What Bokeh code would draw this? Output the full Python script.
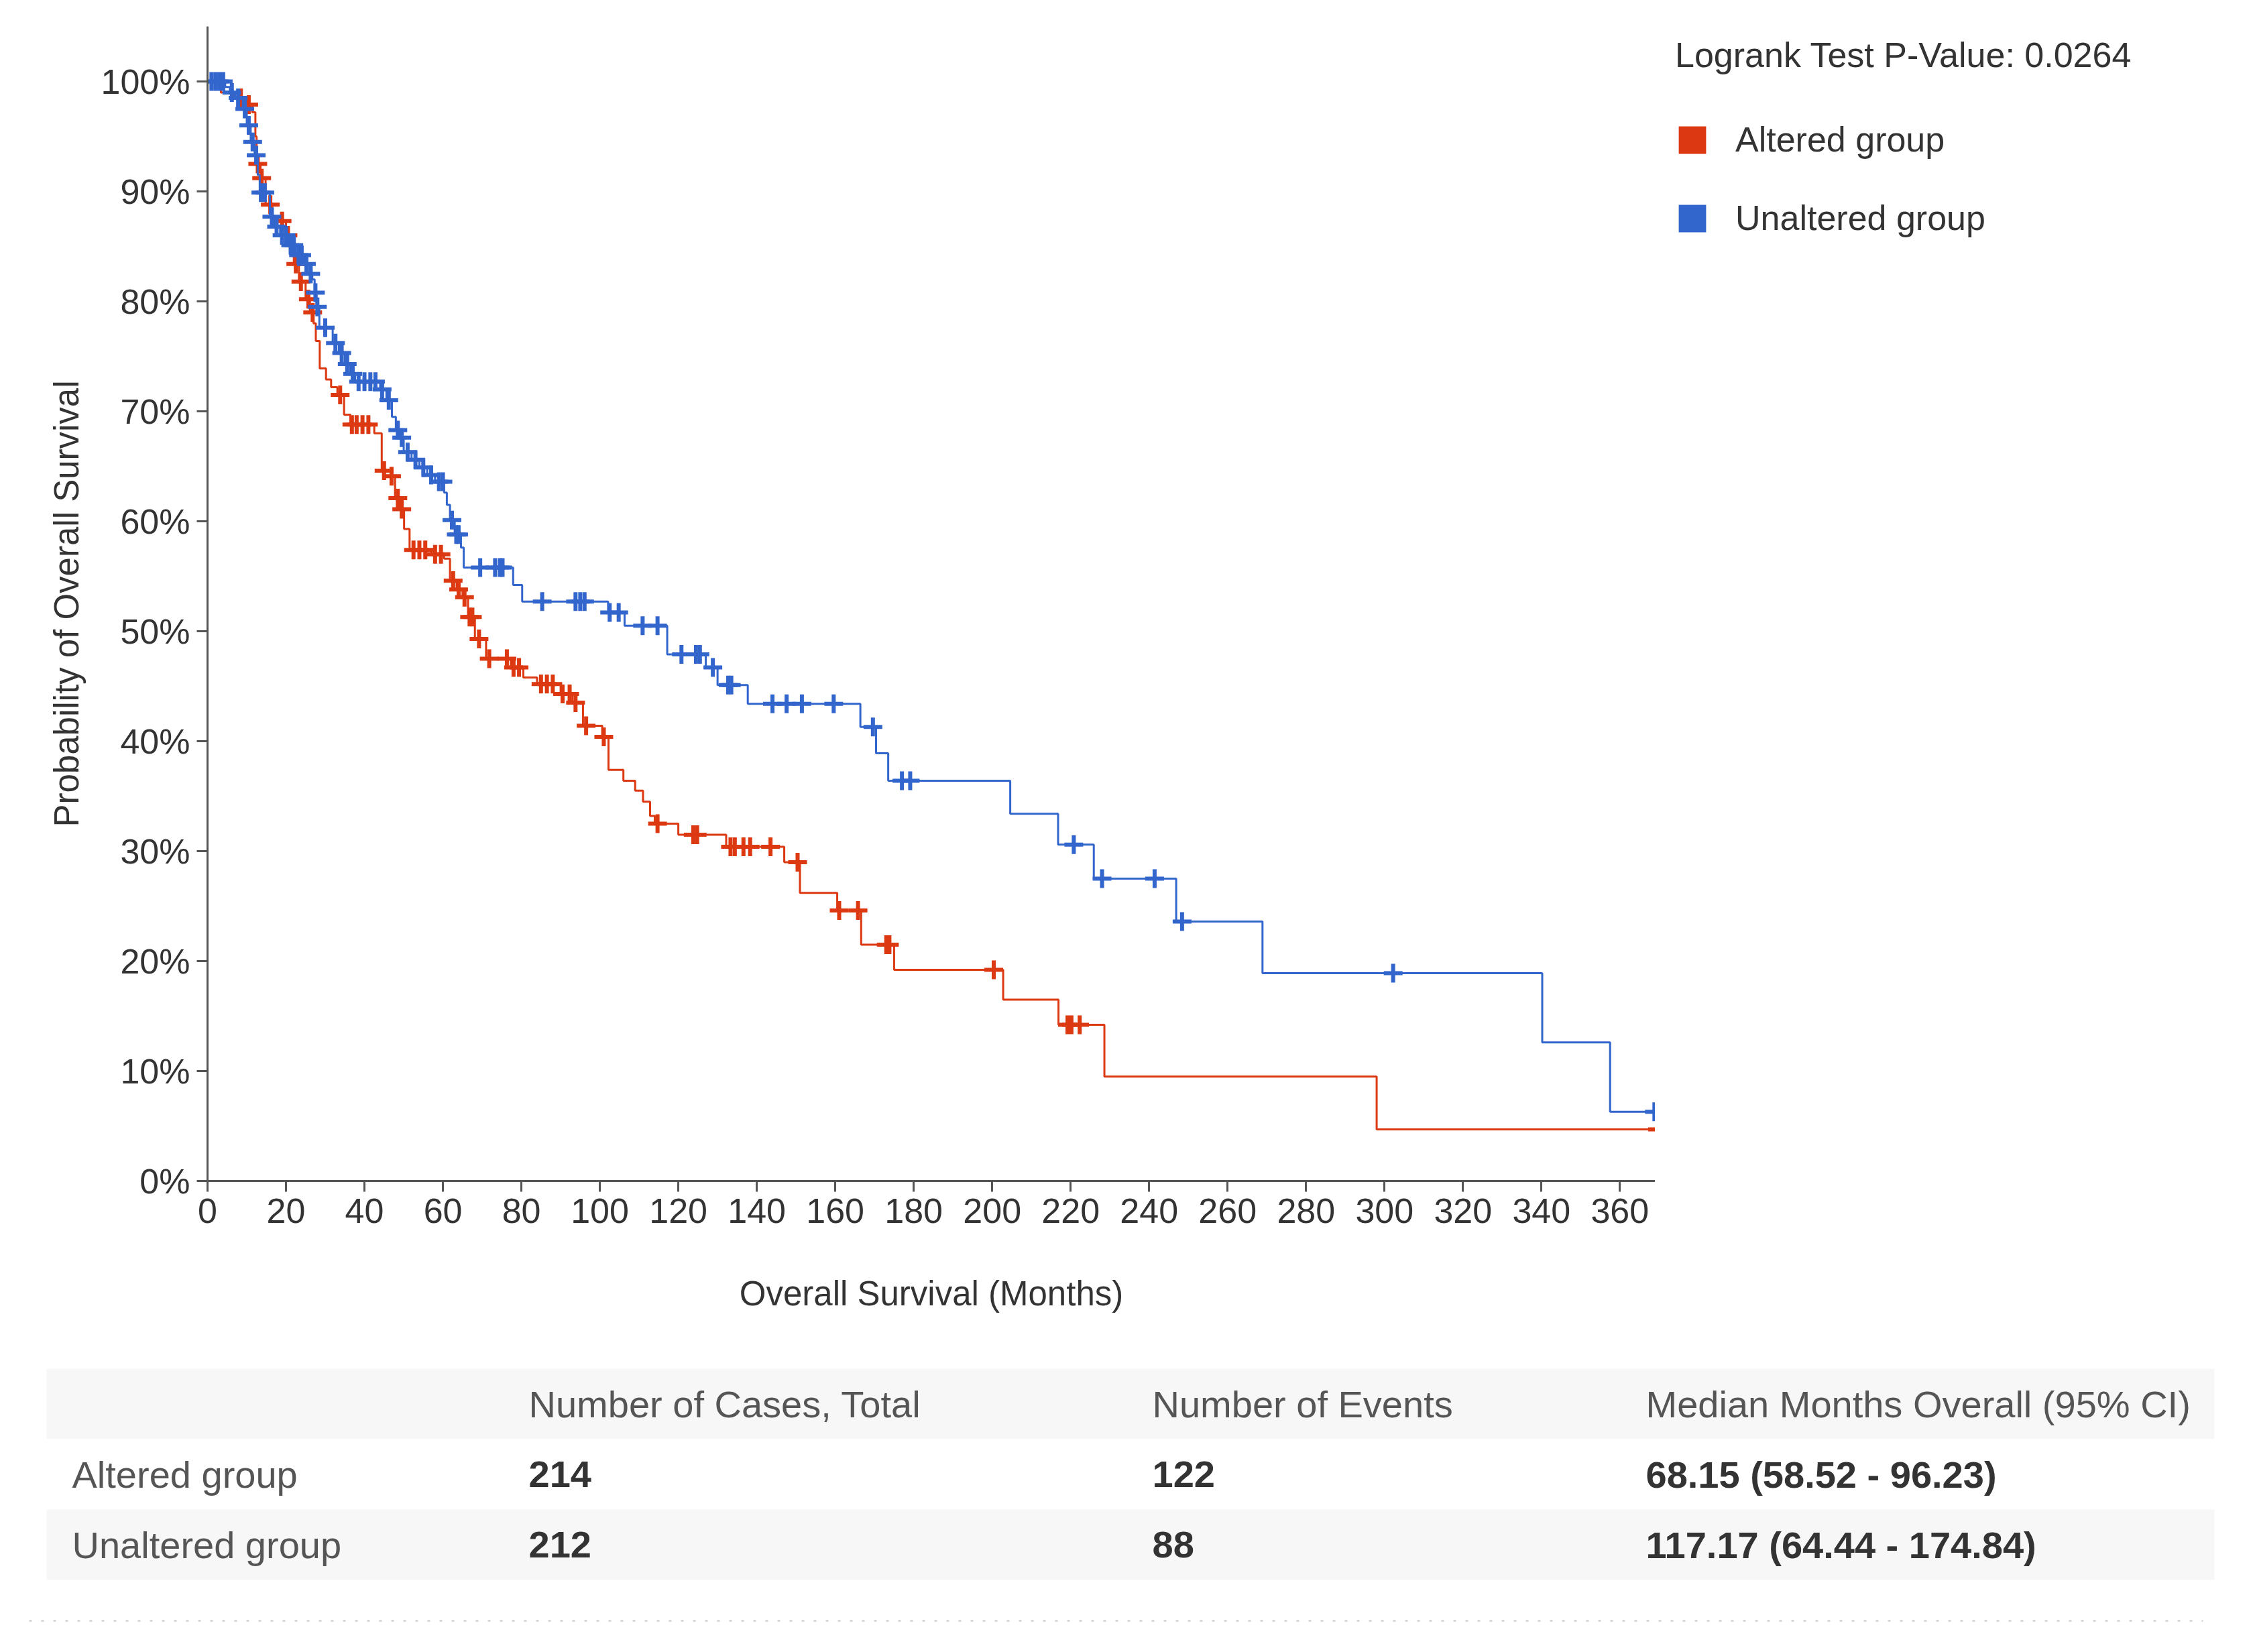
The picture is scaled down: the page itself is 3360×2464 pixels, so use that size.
from bisect import bisect_right

from bokeh.plotting import figure
from bokeh.layouts import row
from bokeh.models import Range1d, FixedTicker, PrintfTickFormatter, Legend, LegendItem
from bokeh.core.properties import value
from bokeh.embed import file_html
from bokeh.resources import INLINE

RED = "#dc3912"
BLUE = "#3366cc"
FONT = "Liberation Sans"
TEXT = "#333333"

# ---------------- data ----------------
altered_time = [0, 3.4, 6.5, 9.7, 11.4, 12.2, 12.5, 13.5, 14.8, 16.5, 18.0, 20.0, 21.0, 22.0, 23.3,
                25.0, 26.1, 27.0, 27.6, 28.6, 30.2, 31.5, 33.1, 34.8, 36.4, 42.5, 44.4, 46.7, 47.8,
                49.0, 50.1, 51.5, 57.0, 60.3, 61.8, 63.5, 65.0, 66.4, 68.15, 71.0, 77.3, 80.5, 84.0,
                90.0, 93.0, 95.7, 100.6, 102.2, 106.0, 109.0, 111.0, 112.8, 114.0, 120.0, 132.2,
                147.0, 151.0, 160.5, 166.6, 175.0, 202.8, 216.9, 228.6, 298.0]
altered_surv = [100, 99.0, 98.5, 97.9, 97.2, 95.0, 92.5, 91.2, 88.8, 87.7, 87.3, 86.0, 84.5, 83.4, 81.8,
                80.2, 79.0, 78.0, 76.4, 73.9, 72.9, 72.2, 71.5, 69.7, 68.8, 68.0, 64.6, 64.1, 62.1,
                61.1, 59.3, 57.4, 57.0, 56.6, 54.6, 53.8, 53.1, 51.3, 49.3, 47.5, 46.7, 45.8, 45.2,
                44.3, 43.5, 41.4, 40.4, 37.4, 36.4, 35.5, 34.5, 33.2, 32.5, 31.5, 30.4,
                29.0, 26.2, 24.6, 21.5, 19.2, 16.5, 14.2, 9.5, 4.7]
altered_censor = [8.5, 10.5, 12.8, 13.8, 16.0, 19.0, 20.5, 22.5, 23.8, 25.7, 26.8, 33.8, 36.8, 38.0,
                  39.5, 41.0, 45.0, 46.9, 48.5, 49.5, 52.5, 54.0, 55.5, 58.0, 59.5, 62.6, 64.0, 65.5,
                  66.8, 67.5, 69.2, 71.8, 76.3, 78.0, 79.4, 85.0, 86.5, 88.0, 90.5, 92.3, 93.8, 96.5,
                  101.0, 114.7, 123.8, 124.8, 133.3, 134.4, 136.6, 138.3, 143.5, 150.4, 161.0, 165.8,
                  173.0, 173.8, 200.4, 219.2, 220.2, 222.3, 369.6]

unaltered_time = [0, 4.5, 5.7, 7.0, 9.0, 10.0, 11.0, 12.0, 12.8, 13.3, 15.9, 17.0, 18.5, 20.5, 22.5,
                  24.5, 26.0, 26.7, 27.3, 27.8, 28.5, 31.9, 33.5, 35.0, 36.4, 37.6, 44.0, 45.6, 47.0,
                  48.0, 49.0, 50.0, 52.0, 54.0, 56.0, 58.0, 60.3, 61.0, 61.8, 63.0, 64.6, 65.3, 77.9,
                  80.2, 102.1, 106.3, 117.17, 127.0, 130.0, 137.7, 166.4, 170.4, 173.5, 204.6, 216.8,
                  225.9, 246.9, 268.9, 340.2, 357.5]
unaltered_surv = [100, 99.5, 99.0, 98.5, 97.5, 96.0, 94.5, 93.3, 91.5, 89.9, 87.7, 86.8, 86.0, 85.1, 84.2,
                  83.4, 82.5, 82.0, 80.8, 79.5, 77.6, 76.2, 75.3, 74.3, 73.4, 72.7, 72.0, 71.0, 69.5,
                  68.3, 67.6, 66.3, 65.6, 64.9, 64.2, 63.6, 62.6, 61.5, 60.1, 58.8, 57.6, 55.8, 54.2,
                  52.7, 51.7, 50.5, 47.9, 46.7, 45.1, 43.4, 41.3, 38.9, 36.4, 33.4, 30.6,
                  27.5, 23.6, 18.9, 12.6, 6.3]
unaltered_censor = [1.0, 2.0, 3.0, 4.0, 6.2, 7.8, 9.5, 10.5, 11.5, 12.4, 13.6, 14.6, 16.4, 17.6, 19.0,
                    20.0, 21.2, 22.0, 23.2, 24.0, 25.2, 26.3, 27.5, 28.0, 30.0, 32.6, 34.2, 35.6, 37.0,
                    38.5, 40.0, 41.5, 42.8, 44.5, 46.2, 48.5, 49.5, 51.0, 53.0, 55.0, 57.0, 59.0, 60.0,
                    62.3, 63.4, 64.0, 69.5, 73.3, 74.5, 75.2, 85.3, 93.8, 95.0, 96.1, 102.5, 104.8,
                    110.9, 114.7, 120.8, 124.5, 125.5, 128.8, 132.7, 133.5, 144.0, 147.6, 151.5, 159.6,
                    169.6, 177.0, 179.1, 220.8, 228.0, 241.4, 248.4, 302.2, 368.8]

x_ticks = [0, 20, 40, 60, 80, 100, 120, 140, 160, 180, 200, 220, 240, 260, 280, 300, 320, 340, 360]
y_ticks = [0, 10, 20, 30, 40, 50, 60, 70, 80, 90, 100]

group_names = ["Altered group", "Unaltered group"]
pvalue_text = "Logrank Test P-Value: 0.0264"

table_header = ["", "Number of Cases, Total", "Number of Events", "Median Months Overall (95% CI)"]
cases_total = ["214", "212"]
events = ["122", "88"]
median_ci = ["68.15 (58.52 - 96.23)", "117.17 (64.44 - 174.84)"]


def level_at(times, survs, t):
    return survs[bisect_right(times, t) - 1]


def curve(times, survs, censors):
    end = max(times[-1], censors[-1])
    xs = list(times) + [end]
    ys = list(survs) + [survs[-1]]
    cy = [level_at(times, survs, c) for c in censors]
    return xs, ys, cy


# ---------------- geometry ----------------
W = 3344
H1 = 2000
H2 = 448
LEFT, FRAME_W, TOP, FRAME_H = 309, 2159, 39, 1722
BOTTOM = H1 - TOP - FRAME_H
P_W = LEFT + FRAME_W
LEG_W = W - P_W

# ---------------- survival plot ----------------
p = figure(width=P_W, height=H1, x_range=Range1d(0, 369), y_range=Range1d(0, 105),
           output_backend="svg", toolbar_location=None,
           min_border_left=LEFT, min_border_right=0, min_border_top=TOP, min_border_bottom=BOTTOM)
p.outline_line_color = None
p.grid.visible = False

for ax in (p.xaxis[0], p.yaxis[0]):
    ax.axis_line_color = "#555555"
    ax.axis_line_width = 3
    ax.major_tick_line_color = "#555555"
    ax.major_tick_line_width = 3
    ax.major_tick_in = 0
    ax.major_tick_out = 16
    ax.minor_tick_in = 0
    ax.minor_tick_out = 0
    ax.major_label_text_font = FONT
    ax.major_label_text_font_size = "52px"
    ax.major_label_text_color = TEXT
    ax.major_label_standoff = 10
    ax.axis_label_text_font = FONT
    ax.axis_label_text_font_style = "normal"
    ax.axis_label_text_color = TEXT

p.xaxis.ticker = FixedTicker(ticks=x_ticks)
p.yaxis.ticker = FixedTicker(ticks=y_ticks)
p.yaxis.formatter = PrintfTickFormatter(format="%d%%")
p.xaxis.axis_label = "Overall Survival (Months)"
p.xaxis.axis_label_text_font_size = "51px"
p.xaxis.axis_label_standoff = 74
p.yaxis.axis_label = "Probability of Overall Survival"
p.yaxis.axis_label_text_font_size = "51px"
p.yaxis.axis_label_standoff = 20

ax_x, ax_y, ax_cy = curve(altered_time, altered_surv, altered_censor)
un_x, un_y, un_cy = curve(unaltered_time, unaltered_surv, unaltered_censor)

p.step(x=ax_x, y=ax_y, mode="after", line_color=RED, line_width=3)
p.scatter(x=altered_censor, y=ax_cy, marker="cross", size=28, line_color=RED, line_width=6)
p.step(x=un_x, y=un_y, mode="after", line_color=BLUE, line_width=3)
p.scatter(x=unaltered_censor, y=un_cy, marker="cross", size=28, line_color=BLUE, line_width=6)

# ---------------- legend panel (right of the plot) ----------------
lg = figure(width=LEG_W, height=H1, x_range=Range1d(0, 1), y_range=Range1d(0, 1),
            output_backend="svg", toolbar_location=None, x_axis_type=None, y_axis_type=None,
            min_border_left=0, min_border_right=0, min_border_top=TOP, min_border_bottom=BOTTOM)
lg.outline_line_color = None
lg.grid.visible = False

key_alt = lg.quad(left=[0], right=[0], top=[0], bottom=[0], fill_color=RED, line_color=None)
key_un = lg.quad(left=[0], right=[0], top=[0], bottom=[0], fill_color=BLUE, line_color=None)

legend = Legend(
    items=[LegendItem(label=group_names[0], renderers=[key_alt]),
           LegendItem(label=group_names[1], renderers=[key_un])],
    location=(30, 1406),
    title=pvalue_text,
    title_text_font=FONT, title_text_font_size="52px", title_text_font_style="normal",
    title_text_color=TEXT, title_standoff=66,
    label_text_font=FONT, label_text_font_size="52px", label_text_color=TEXT,
    glyph_width=51, glyph_height=51, label_standoff=39, spacing=57,
    padding=0, margin=0, border_line_color=None, background_fill_alpha=0,
)
lg.add_layout(legend)

top_row = row(p, lg, spacing=0)

# ---------------- summary table ----------------
t = figure(width=W, height=H2, x_range=Range1d(0, W), y_range=Range1d(H2, 0),
           output_backend="svg", toolbar_location=None, x_axis_type=None, y_axis_type=None,
           min_border_left=0, min_border_right=0, min_border_top=0, min_border_bottom=0)
t.outline_line_color = None
t.grid.visible = False

row_top0 = 41
row_h = 105
band_left, band_right = 69, 3302
col_x = [107, 788, 1718, 2454]
band_fill = ["#f7f7f7", "#ffffff", "#f7f7f7"]
tops = [row_top0 + i * row_h for i in range(3)]
t.quad(left=[band_left] * 3, right=[band_right] * 3, top=tops,
       bottom=[tp + row_h for tp in tops], fill_color=band_fill, line_color=None)

centers = [tp + row_h / 2 for tp in tops]
t.text(x=col_x[1:], y=[centers[0]] * 3, text=table_header[1:], text_font=value(FONT),
       text_font_size=value("56px"), text_color="#555555", text_baseline="middle", text_align="left")
t.text(x=[col_x[0]] * 2, y=centers[1:], text=group_names, text_font=value(FONT),
       text_font_size=value("56px"), text_color="#555555", text_baseline="middle", text_align="left")
for ci, vals in zip(col_x[1:], [cases_total, events, median_ci]):
    t.text(x=[ci] * 2, y=centers[1:], text=vals, text_font=value(FONT), text_font_style="bold",
           text_font_size=value("56px"), text_color="#333333", text_baseline="middle", text_align="left")

t.segment(x0=[43], y0=[417], x1=[3285], y1=[417], line_color="#d8d8d8", line_width=3, line_dash="4 14")

open("out.html", "w").write(file_html([top_row, t], INLINE))
